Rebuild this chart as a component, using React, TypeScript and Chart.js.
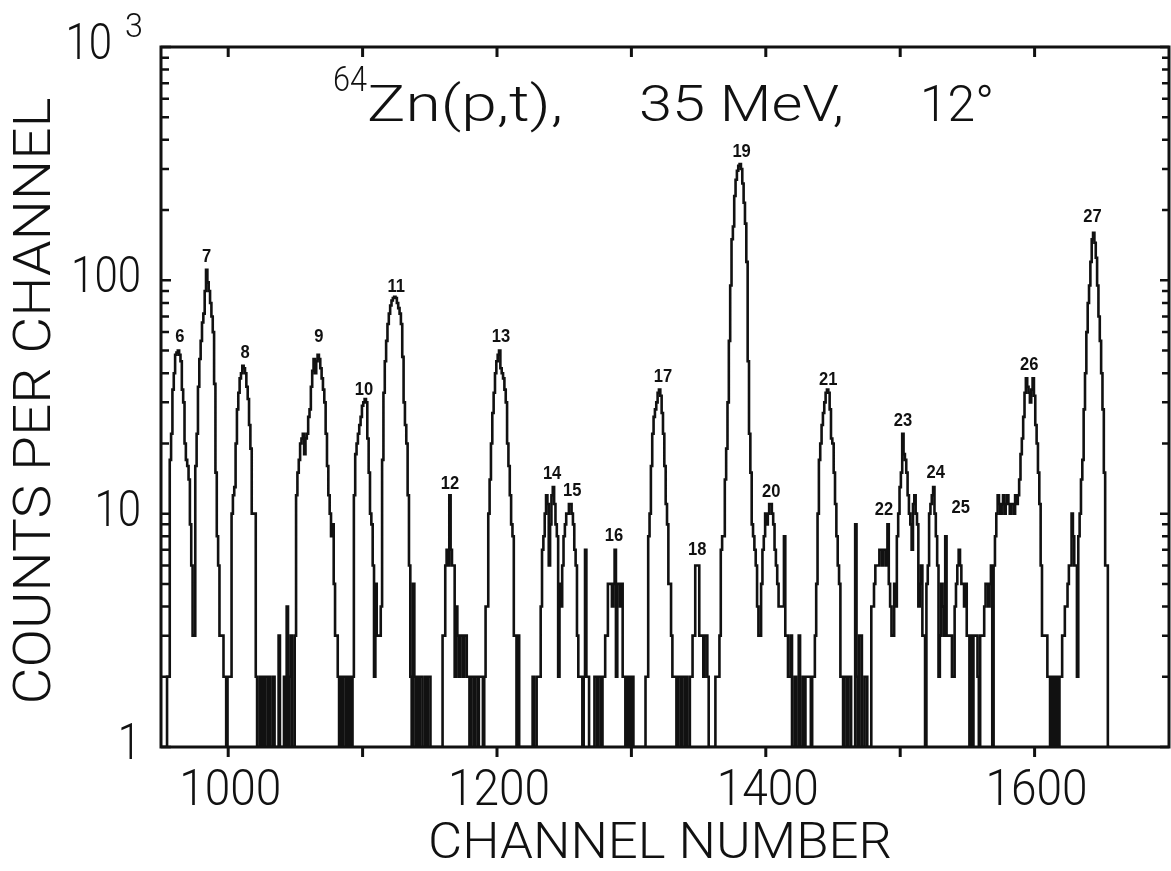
import { useEffect, useRef } from 'react';
import { Chart, registerables } from 'chart.js';

Chart.register(...registerables);

// ---------- DATA ----------
const FIRST_CHANNEL = 950;

// counts per channel (1 = empty channel, sits on the axis floor)
const counts0950 = [
  1, 1, 1, 1, 1, 2, 2, 17, 22, 34,
  40, 48, 49, 50, 48, 45, 34, 30, 20, 17,
  16, 14, 9, 6, 3, 3, 16, 22, 35, 46,
  55, 66, 72, 90, 111, 98, 90, 80, 70, 60,
  36, 15, 8, 6, 3, 3, 3, 2, 2, 1,
];
const counts1000 = [
  2, 2, 2, 10, 12, 13, 20, 28, 33, 38,
  40, 43, 42, 40, 35, 31, 24, 19, 10, 10,
  10, 2, 1, 1, 2, 1, 2, 1, 2, 2,
  1, 2, 1, 1, 2, 1, 1, 1, 3, 1,
  1, 1, 2, 1, 4, 1, 2, 3, 1, 1,
];
const counts1050 = [
  3, 12, 15, 17, 20, 21, 22, 18, 21, 22,
  26, 28, 35, 41, 46, 40, 45, 48, 46, 42,
  38, 34, 30, 22, 16, 12, 10, 8, 9, 5,
  3, 3, 2, 1, 2, 1, 2, 2, 1, 2,
  1, 2, 1, 2, 12, 18, 20, 22, 24, 26,
];
const counts1100 = [
  29, 30, 31, 30, 21, 15, 10, 9, 6, 2,
  5, 3, 3, 3, 4, 17, 33, 45, 55, 65,
  72, 78, 82, 84, 85, 84, 80, 76, 72, 65,
  47, 30, 24, 20, 12, 6, 2, 1, 5, 2,
  1, 2, 1, 2, 2, 1, 1, 2, 1, 2,
];
const counts1150 = [
  2, 1, 1, 1, 1, 1, 1, 1, 1, 1,
  3, 3, 6, 7, 6, 12, 7, 6, 6, 2,
  4, 3, 2, 3, 3, 2, 3, 3, 2, 2,
  1, 2, 2, 1, 2, 2, 1, 2, 2, 2,
  1, 2, 4, 4, 10, 14, 20, 27, 33, 40,
];
const counts1200 = [
  45, 48, 50, 42, 40, 38, 34, 30, 20, 16,
  12, 9, 8, 3, 3, 1, 3, 1, 1, 1,
  1, 1, 1, 1, 1, 1, 1, 2, 1, 1,
  2, 2, 2, 4, 7, 8, 10, 12, 11, 6,
  9, 12, 13, 11, 9, 8, 2, 5, 4, 6,
];
const counts1250 = [
  8, 9, 10, 10, 11, 11, 10, 9, 7, 6,
  3, 2, 2, 2, 1, 2, 7, 2, 2, 1,
  1, 1, 1, 2, 2, 1, 2, 2, 1, 2,
  2, 3, 3, 5, 5, 5, 4, 5, 7, 2,
  5, 5, 4, 5, 2, 2, 1, 2, 1, 2,
];
const counts1300 = [
  1, 2, 1, 1, 1, 1, 1, 1, 1, 1,
  1, 2, 2, 8, 10, 16, 22, 26, 28, 30,
  33, 34, 32, 27, 22, 16, 11, 9, 5, 5,
  3, 2, 2, 2, 1, 2, 2, 1, 2, 2,
  1, 2, 1, 1, 2, 2, 3, 3, 6, 6,
];
const counts1350 = [
  6, 3, 3, 3, 2, 3, 3, 2, 1, 1,
  1, 1, 1, 2, 2, 2, 3, 7, 8, 8,
  14, 19, 30, 55, 95, 150, 170, 230, 270, 295,
  310, 315, 300, 260, 215, 175, 120, 45, 22, 15,
  9, 8, 7, 6, 4, 3, 3, 5, 7, 8,
];
const counts1400 = [
  10, 9, 10, 11, 11, 10, 9, 7, 6, 5,
  4, 4, 4, 4, 8, 3, 3, 2, 2, 3,
  1, 1, 2, 1, 1, 3, 1, 1, 2, 1,
  2, 2, 2, 2, 1, 2, 2, 3, 5, 10,
  17, 20, 24, 27, 30, 33, 34, 33, 28, 21,
];
const counts1450 = [
  20, 15, 11, 8, 6, 5, 2, 2, 1, 2,
  2, 1, 2, 2, 1, 1, 1, 9, 2, 1,
  3, 3, 1, 1, 2, 2, 1, 1, 1, 4,
  4, 5, 6, 6, 6, 7, 7, 6, 7, 7,
  6, 9, 5, 4, 3, 3, 5, 4, 8, 10,
];
const counts1500 = [
  13, 15, 22, 18, 17, 15, 12, 10, 9, 7,
  11, 12, 10, 9, 4, 5, 6, 3, 3, 1,
  5, 6, 10, 11, 12, 13, 10, 8, 6, 2,
  3, 5, 4, 3, 8, 3, 3, 3, 3, 2,
  2, 4, 5, 6, 7, 6, 5, 5, 4, 5,
];
const counts1550 = [
  3, 3, 1, 3, 1, 3, 3, 3, 2, 1,
  3, 3, 3, 4, 5, 5, 4, 5, 6, 1,
  6, 8, 10, 12, 11, 10, 11, 12, 10, 11,
  12, 11, 10, 11, 11, 10, 12, 11, 12, 14,
  18, 21, 26, 33, 38, 35, 33, 30, 34, 38,
];
const counts1600 = [
  32, 24, 20, 15, 11, 6, 3, 3, 3, 3,
  2, 2, 1, 2, 1, 2, 1, 2, 1, 2,
  2, 3, 3, 4, 4, 5, 6, 6, 10, 8,
  6, 6, 2, 8, 10, 14, 17, 28, 40, 60,
  80, 95, 120, 150, 160, 145, 125, 95, 70, 55,
];
const counts1650 = [40, 28, 15, 6, 6, 1, 1];

const allCounts = [
  ...counts0950, ...counts1000, ...counts1050, ...counts1100, ...counts1150,
  ...counts1200, ...counts1250, ...counts1300, ...counts1350, ...counts1400,
  ...counts1450, ...counts1500, ...counts1550, ...counts1600, ...counts1650,
];

// axes
const xMin = 950;
const xMax = 1700;
const yMin = 1;
const yMax = 1000;
const xTickValues = [1000, 1100, 1200, 1300, 1400, 1500, 1600];
const xLabelValues = [1000, 1200, 1400, 1600];
const xLabelTexts = ['1000', '1200', '1400', '1600'];
const yLabelValues = [1, 10, 100, 1000];
const yLabelTexts = ['1', '10', '100', '10'];
const yLabelExponents = ['', '', '', '3'];
const yDecades = [1, 10, 100];
const yMinorMultipliers = [2, 3, 4, 5, 6, 7, 8, 9];

// peak labels
const peakIds = ['6', '7', '8', '9', '10', '11', '12', '13', '14', '15', '16', '17', '18', '19', '20', '21', '22', '23', '24', '25', '26', '27'];
const peakChannels = [964, 984, 1012.5, 1067.5, 1101, 1125, 1165, 1203, 1241, 1256, 1287, 1323.5, 1349, 1382, 1404, 1446.5, 1488, 1502, 1526.5, 1545, 1596, 1643];
const peakLabelCounts = [57, 126, 49, 57, 34, 94, 13.4, 57, 14.8, 12.5, 8, 38.6, 7, 356, 12.4, 37.5, 10.4, 25, 15, 10.6, 43.5, 187];

const titleIsotope = '64';
const titleReaction = 'Zn(p,t),';
const titleEnergy = '35 MeV,';
const titleAngle = '12°';
const xTitle = 'CHANNEL NUMBER';
const yTitle = 'COUNTS PER CHANNEL';

// ---------- STYLE ----------
const INK = '#111111';
const FONT = 'Roboto, "DejaVu Sans", sans-serif';

function drawScaled(
  ctx: CanvasRenderingContext2D,
  text: string,
  x: number,
  y: number,
  font: string,
  sx: number,
  align: CanvasTextAlign,
) {
  ctx.save();
  ctx.font = font;
  ctx.translate(x, y);
  ctx.scale(sx, 1);
  ctx.textAlign = align;
  ctx.textBaseline = 'alphabetic';
  ctx.fillText(text, 0, 0);
  ctx.restore();
}

function drawFitted(
  ctx: CanvasRenderingContext2D,
  text: string,
  x: number,
  y: number,
  font: string,
  width: number,
  align: CanvasTextAlign,
) {
  ctx.save();
  ctx.font = font;
  const w = ctx.measureText(text).width || 1;
  ctx.restore();
  drawScaled(ctx, text, x, y, font, width / w, align);
}

const framePlugin = {
  id: 'framePlugin',
  afterDraw(chart: any) {
    const ctx: CanvasRenderingContext2D = chart.ctx;
    const { left, right, top, bottom } = chart.chartArea;
    const xs = chart.scales.x;
    const ys = chart.scales.y;
    ctx.save();
    ctx.strokeStyle = INK;
    ctx.fillStyle = INK;
    ctx.lineCap = 'butt';

    // frame
    ctx.lineWidth = 3;
    ctx.strokeRect(left, top, right - left, bottom - top);

    // x ticks (bottom outside, top inside)
    ctx.lineWidth = 3;
    for (const v of xTickValues) {
      const px = xs.getPixelForValue(v);
      ctx.beginPath();
      ctx.moveTo(px, bottom);
      ctx.lineTo(px, bottom + 10);
      ctx.moveTo(px, top);
      ctx.lineTo(px, top + 10);
      ctx.stroke();
    }

    // y ticks (inside, both sides)
    ctx.lineWidth = 2.5;
    for (const d of yDecades) {
      for (const m of yMinorMultipliers) {
        const py = ys.getPixelForValue(d * m);
        ctx.beginPath();
        ctx.moveTo(left, py);
        ctx.lineTo(left + 8, py);
        ctx.moveTo(right, py);
        ctx.lineTo(right - 7, py);
        ctx.stroke();
      }
    }
    for (const v of yLabelValues) {
      const py = ys.getPixelForValue(v);
      ctx.beginPath();
      ctx.moveTo(left, py);
      ctx.lineTo(left + 10, py);
      ctx.moveTo(right, py);
      ctx.lineTo(right - 9, py);
      ctx.stroke();
    }

    // y labels
    const bigFont = `300 50px ${FONT}`;
    yLabelValues.forEach((v, i) => {
      const py = ys.getPixelForValue(v);
      const exp = yLabelExponents[i];
      if (exp) {
        drawScaled(ctx, exp, 143, py - 10, `300 34px ${FONT}`, 0.95, 'right');
        drawScaled(ctx, yLabelTexts[i], 112, py + 12, bigFont, 0.84, 'right');
      } else {
        drawScaled(ctx, yLabelTexts[i], 141, py + 12, bigFont, 0.84, 'right');
      }
    });

    // x labels
    xLabelValues.forEach((v, i) => {
      const px = xs.getPixelForValue(v);
      drawScaled(ctx, xLabelTexts[i], px + 2, 805, bigFont, 0.92, 'center');
    });

    // axis titles
    drawFitted(ctx, xTitle, 660, 858, `300 50px ${FONT}`, 464, 'center');
    ctx.save();
    ctx.translate(50, 401);
    ctx.rotate(-Math.PI / 2);
    drawFitted(ctx, yTitle, 0, 0, `300 52px ${FONT}`, 607, 'center');
    ctx.restore();

    // in-plot title
    drawFitted(ctx, titleIsotope, 333, 91, `300 35px ${FONT}`, 34, 'left');
    drawFitted(ctx, titleReaction, 367, 121, bigFont, 196, 'left');
    drawFitted(ctx, titleEnergy, 639, 121, bigFont, 205, 'left');
    drawFitted(ctx, titleAngle, 920, 121, bigFont, 74, 'left');

    // peak labels
    ctx.font = `bold 18px "Liberation Sans", Arial, sans-serif`;
    peakIds.forEach((id, i) => {
      const px = xs.getPixelForValue(peakChannels[i]);
      const py = ys.getPixelForValue(peakLabelCounts[i]);
      ctx.save();
      ctx.translate(px, py);
      ctx.scale(0.92, 1);
      ctx.textAlign = 'center';
      ctx.textBaseline = 'middle';
      ctx.fillText(id, 0, 0);
      ctx.restore();
    });

    ctx.restore();
  },
};

export default function App() {
  const canvasRef = useRef<HTMLCanvasElement | null>(null);

  useEffect(() => {
    const canvas = canvasRef.current;
    if (!canvas) return;
    const points = allCounts.map((c, i) => ({ x: FIRST_CHANNEL + i, y: c }));
    const chart = new Chart(canvas, {
      type: 'line',
      data: {
        datasets: [
          {
            data: points,
            borderColor: INK,
            borderWidth: 2.6,
            pointRadius: 0,
            stepped: 'middle',
            fill: false,
            tension: 0,
          },
        ],
      },
      options: {
        animation: false,
        responsive: false,
        devicePixelRatio: 1,
        events: [],
        layout: { padding: { left: 161, right: 2, top: 47, bottom: 124 } },
        plugins: {
          legend: { display: false },
          tooltip: { enabled: false },
          title: { display: false },
        },
        scales: {
          x: { type: 'linear', min: xMin, max: xMax, display: false },
          y: { type: 'logarithmic', min: yMin, max: yMax, display: false },
        },
      },
      plugins: [framePlugin],
    } as any);
    return () => chart.destroy();
  }, []);

  return (
    <div style={{ position: 'fixed', left: 0, top: 0, width: 1171, height: 871, background: '#fff' }}>
      <canvas ref={canvasRef} width={1171} height={871} style={{ width: 1171, height: 871, display: 'block' }} />
    </div>
  );
}
